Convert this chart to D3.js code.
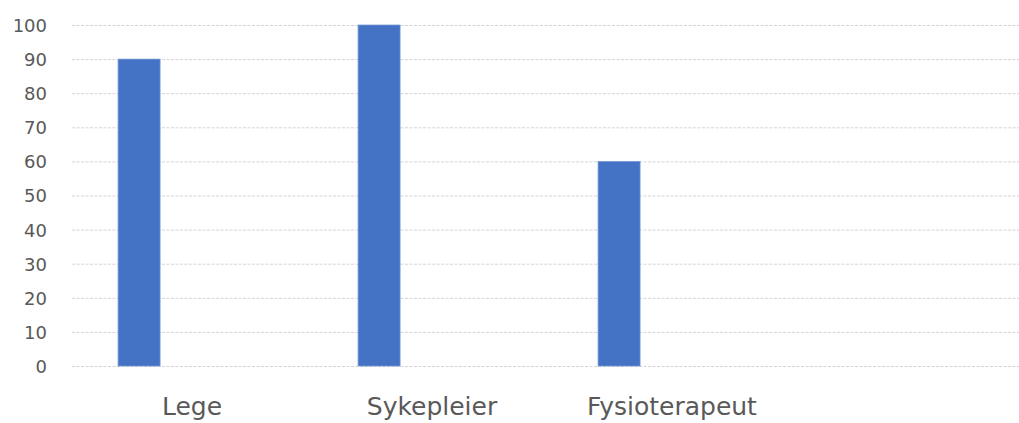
<!DOCTYPE html>
<html>
<head>
<meta charset="utf-8">
<script src="https://cdn.jsdelivr.net/npm/d3@7"></script>
<style>
  html, body { margin: 0; padding: 0; background: #fff; }
  svg { display: block; }
</style>
</head>
<body>
<svg id="chart" width="1019" height="423"></svg>
<script>
// Data
const categories = ["Lege", "Sykepleier", "Fysioterapeut"];
const values = [90, 100, 60];
const yTicks = [0, 10, 20, 30, 40, 50, 60, 70, 80, 90, 100];

const W = 1019, H = 423;
const plot = { left: 72, right: 792, top: 25, bottom: 366 };

const svg = d3.select("#chart");

const x = d3.scaleBand()
  .domain(categories)
  .range([plot.left, plot.right])
  .padding(0);

const y = d3.scaleLinear()
  .domain([0, 100])
  .range([plot.bottom, plot.top]);

// Horizontal dashed gridlines across the full width
svg.append("g")
  .selectAll("line")
  .data(yTicks)
  .join("line")
  .attr("x1", plot.left)
  .attr("x2", W)
  .attr("y1", d => y(d) + 0.5)
  .attr("y2", d => y(d) + 0.5)
  .attr("stroke", "#d4d4d4")
  .attr("stroke-width", 1)
  .attr("stroke-dasharray", "3,1.5");

// Y axis labels
const yAxis = d3.axisLeft(y).tickValues(yTicks).tickSize(0).tickPadding(0);
const gy = svg.append("g")
  .attr("transform", `translate(47,0)`)
  .call(yAxis);
gy.select(".domain").remove();
gy.selectAll("text")
  .attr("font-family", "DejaVu Sans, sans-serif")
  .attr("font-size", 18)
  .attr("fill", "#595959")
  .attr("dy", "0.36em");

// Bars sit left of the category centre
const barOffset = x.bandwidth() * 0.192;
const barWidth = x.bandwidth() * 0.175;

svg.append("g")
  .selectAll("rect")
  .data(categories.map((c, i) => ({ c, v: values[i] })))
  .join("rect")
  .attr("x", d => x(d.c) + barOffset)
  .attr("width", barWidth)
  .attr("y", d => y(d.v))
  .attr("height", d => y(0) - y(d.v))
  .attr("fill", "#4472C4")
  .attr("stroke", "#7b9ad6")
  .attr("stroke-width", 0.8);

// Category labels
const xAxis = d3.axisBottom(x).tickSize(0).tickPadding(0);
const gx = svg.append("g")
  .attr("transform", `translate(0,415)`)
  .call(xAxis);
gx.select(".domain").remove();
gx.selectAll("text")
  .attr("font-family", "DejaVu Sans, sans-serif")
  .attr("font-size", 25)
  .attr("fill", "#595959")
  .attr("dy", 0)
  .attr("y", 0);
</script>
</body>
</html>
